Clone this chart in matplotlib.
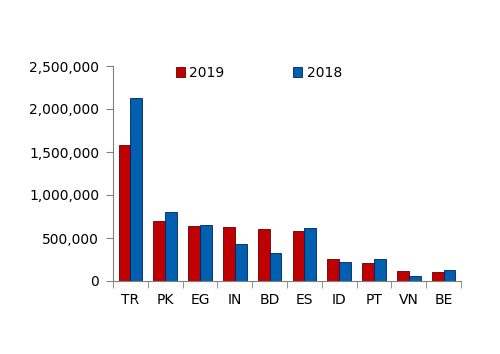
import matplotlib
matplotlib.use("Agg")
import matplotlib.pyplot as plt
import numpy as np
from matplotlib.ticker import FuncFormatter, FixedLocator

categories = ["TR", "PK", "EG", "IN", "BD", "ES", "ID", "PT", "VN", "BE"]
values_2019 = [1580000, 700000, 645000, 628000, 608000, 585000, 252000, 209000, 120000, 105000]
values_2018 = [2124000, 800000, 655000, 430000, 325000, 613000, 220000, 252000, 58000, 124000]

fig = plt.figure(figsize=(5, 3.54), dpi=100)
ax = fig.add_axes([113/500, 1-281/354, (461-113)/500, (281-66)/354])

x = np.arange(len(categories))
w = 0.34
b1 = ax.bar(x - w/2, values_2019, w, color="#C00000", edgecolor="#600000", linewidth=0.6, label="2019")
b2 = ax.bar(x + w/2, values_2018, w, color="#0060B0", edgecolor="#002060", linewidth=0.6, label="2018")

ax.set_xlim(-0.5, len(categories) - 0.5)
ax.set_ylim(0, 2500000)
ax.set_yticks(np.arange(0, 2500001, 500000))
ax.yaxis.set_major_formatter(FuncFormatter(lambda v, p: f"{int(v):,}"))
ax.set_xticks(x)
ax.set_xticklabels(categories)
ax.xaxis.set_minor_locator(FixedLocator(np.arange(-0.5, len(categories), 1.0)))
ax.tick_params(axis="x", which="major", length=0, pad=9, labelsize=10)
ax.tick_params(axis="x", which="minor", length=5, color="#808080")
ax.tick_params(axis="y", length=5, color="#808080", labelsize=10, pad=5)

for s in ["top", "right"]:
    ax.spines[s].set_visible(False)
for s in ["left", "bottom"]:
    ax.spines[s].set_color("#808080")

leg = fig.legend(handles=[b1, b2], labels=["2019", "2018"], ncol=2, frameon=False,
                 loc="center left", bbox_to_anchor=(163/500, 1-73/354),
                 columnspacing=4.9, handlelength=0.7, handleheight=0.7,
                 handletextpad=0.3, fontsize=10)

fig.savefig("out.png", dpi=100)
